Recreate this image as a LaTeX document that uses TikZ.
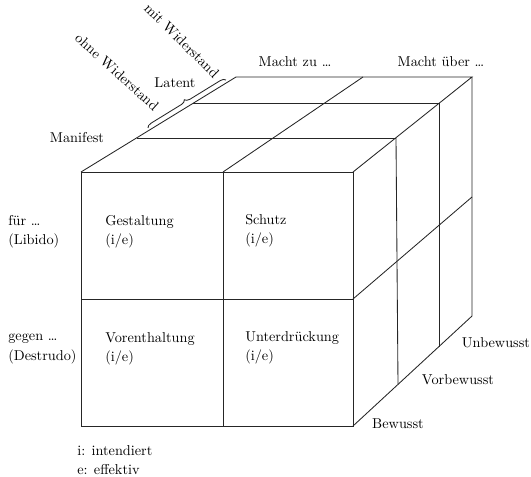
\documentclass[tikz,border=0pt]{standalone}
\usetikzlibrary{decorations.pathreplacing}

\tikzset{
    cubeedge/.style={line width=0.6pt, black!85},
    lbl/.style={inner sep=0pt, align=left},
}

\begin{document}
\begin{tikzpicture}[x=0.7pt, y=-0.7pt]
    \useasboundingbox (0,0) rectangle (531,477);
    % Corners of the front face
    \coordinate (ftl) at (81,172);
    \coordinate (ftm) at (223,172);
    \coordinate (ftr) at (353,172);
    \coordinate (fml) at (81,299);
    \coordinate (fmr) at (353,299);
    \coordinate (fbl) at (81,426);
    \coordinate (fbm) at (223,426);
    \coordinate (fbr) at (353,426);
    % Depth layers on top
    \coordinate (tl1) at (137,138);
    \coordinate (tl2) at (193,103);
    \coordinate (tl3) at (236,77);
    \coordinate (tm3) at (363,77);
    \coordinate (tr1) at (396,138);
    \coordinate (tr2) at (439,103);
    \coordinate (tr3) at (472,77);
    % Depth layers on the right side
    \coordinate (rm3) at (472,197);
    \coordinate (rb1) at (398,384);
    \coordinate (rb2) at (439,347);
    \coordinate (rb3) at (472,316);
    % Ends of the brace
    \coordinate (lat1) at (148,128);
    \coordinate (lat2) at (226,80);

    % Front face
    \draw[cubeedge] (ftl) rectangle (fbr);
    \draw[cubeedge] (fml) -- (fmr);
    \draw[cubeedge] (ftm) -- (fbm);
    % Top face
    \draw[cubeedge] (ftl) -- (tl3) -- (tr3) -- (ftr);
    \draw[cubeedge] (tl1) -- (tr1);
    \draw[cubeedge] (tl2) -- (tr2);
    \draw[cubeedge] (ftm) -- (tm3);
    % Right face
    \draw[cubeedge] (tr3) -- (rb3) -- (fbr);
    \draw[cubeedge] (tr1) -- (rb1);
    \draw[cubeedge] (tr2) -- (rb2);
    \draw[cubeedge] (fmr) -- (rm3);
    % Latent brace
    \draw[cubeedge, decorate, decoration={brace, amplitude=3.5pt}] (lat1) -- (lat2);

    % Labels around the cube
    \node (mzu) at (295,62) {Macht zu \dots};
    \node (mueber) at (441,62) {Macht über \dots};
    \node (manifest) at (77,138) {Manifest};
    \node (latent) at (175,83) {Latent};
    \node[rotate=-42, anchor=east, inner sep=1pt] (ohne) at (158,109) {ohne Widerstand};
    \node[rotate=-45, anchor=east, inner sep=1pt] (mit) at (218,77) {mit Widerstand};
    \node[lbl, anchor=west] (fuer) at (8,232) {für \dots\\[1.5pt](Libido)};
    \node[lbl, anchor=west] (gegen) at (8,349) {gegen \dots\\[1.5pt](Destrudo)};
    \node (unbew) at (496,343) {Unbewusst};
    \node (vorbew) at (458,380) {Vorbewusst};
    \node (bew) at (398,424) {Bewusst};
    % Cells
    \node[lbl, anchor=west] (gest) at (105,232) {Gestaltung\\[1.5pt](i/e)};
    \node[lbl, anchor=west] (schutz) at (245,231) {Schutz\\[1.5pt](i/e)};
    \node[lbl, anchor=west] (voren) at (105,349) {Vorenthaltung\\[1.5pt](i/e)};
    \node[lbl, anchor=west] (unterd) at (245,348) {Unterdrückung\\[1.5pt](i/e)};
    % Legend
    \node[lbl, anchor=west] (legende) at (77,460) {i: intendiert\\[1.5pt]e: effektiv};
\end{tikzpicture}
\end{document}
